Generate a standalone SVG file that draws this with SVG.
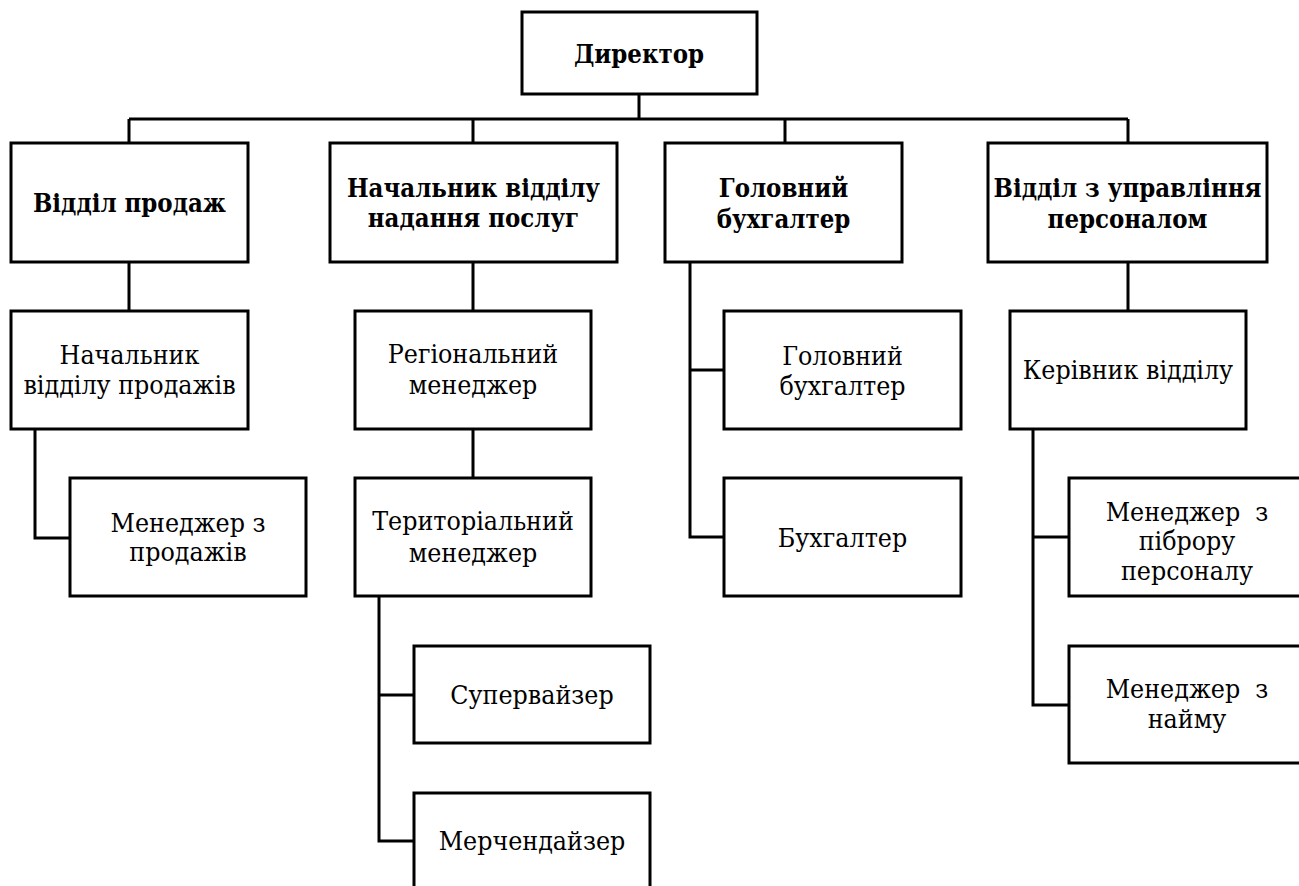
<svg xmlns="http://www.w3.org/2000/svg" width="1299" height="886" viewBox="0 0 1299 886">
<style>
rect{fill:#fff;stroke:#000;stroke-width:3}
.c path{fill:none;stroke:#000;stroke-width:3}
text{font-family:'DejaVu Serif Condensed','DejaVu Serif',serif;font-stretch:condensed;font-size:26.5px;fill:#000;text-anchor:middle}
.b{font-weight:bold;font-size:25.5px}
</style>
<rect x="0" y="0" width="1299" height="886" style="stroke:none"/>
<g class="c" id="connectors">
<path d="M639 94V119M129 119H1128M129 119V143M473 119V143M785 119V143M1128 119V143"/>
<path d="M129 262V311M35 429V538H70"/>
<path d="M473 262V311M473 429V478M379 596V841H414M379 695H414"/>
<path d="M690 262V537H724M690 370H724"/>
<path d="M1128 262V311M1033 429V705H1069M1033 537H1069"/>
</g>
<g id="director"><rect x="522" y="12" width="235" height="82"/><text class="b" x="639" y="63">Директор</text></g>
<g id="sales"><rect x="11" y="143" width="237" height="119"/><text class="b" x="129.5" y="212">Відділ продаж</text></g>
<g id="services"><rect x="330" y="143" width="287" height="119"/><text class="b" x="473.5" y="197">Начальник відділу</text><text class="b" x="473.5" y="227">надання послуг</text></g>
<g id="chief-accountant"><rect x="665" y="143" width="237" height="119"/><text class="b" x="783.5" y="197">Головний</text><text class="b" x="783.5" y="228">бухгалтер</text></g>
<g id="hr"><rect x="988" y="143" width="279" height="119"/><text class="b" x="1127.5" y="197">Відділ з управління</text><text class="b" x="1127.5" y="228">персоналом</text></g>
<g id="sales-head"><rect x="11" y="311" width="237" height="118"/><text x="129.5" y="364">Начальник</text><text x="129.5" y="394">відділу продажів</text></g>
<g id="sales-manager"><rect x="70" y="478" width="236" height="118"/><text x="188" y="532">Менеджер з</text><text x="188" y="561">продажів</text></g>
<g id="regional"><rect x="355" y="311" width="236" height="118"/><text x="473" y="363">Регіональний</text><text x="473" y="394">менеджер</text></g>
<g id="territorial"><rect x="355" y="478" width="236" height="118"/><text x="473" y="530">Територіальний</text><text x="473" y="562">менеджер</text></g>
<g id="supervisor"><rect x="414" y="646" width="236" height="97"/><text x="532" y="704">Супервайзер</text></g>
<g id="merchandiser"><rect x="414" y="793" width="236" height="120"/><text x="532" y="850">Мерчендайзер</text></g>
<g id="chief-accountant-2"><rect x="724" y="311" width="237" height="118"/><text x="842.5" y="365">Головний</text><text x="842.5" y="395">бухгалтер</text></g>
<g id="accountant"><rect x="724" y="478" width="237" height="118"/><text x="842.5" y="547">Бухгалтер</text></g>
<g id="dept-head"><rect x="1010" y="311" width="236" height="118"/><text x="1128" y="379">Керівник відділу</text></g>
<g id="recruit-manager"><rect x="1069" y="478" width="240" height="118"/><text x="1187" y="521" xml:space="preserve">Менеджер  з</text><text x="1187" y="550">піброру</text><text x="1187" y="580">персоналу</text></g>
<g id="hire-manager"><rect x="1069" y="646" width="240" height="117"/><text x="1187" y="698" xml:space="preserve">Менеджер  з</text><text x="1187" y="728">найму</text></g>
</svg>
